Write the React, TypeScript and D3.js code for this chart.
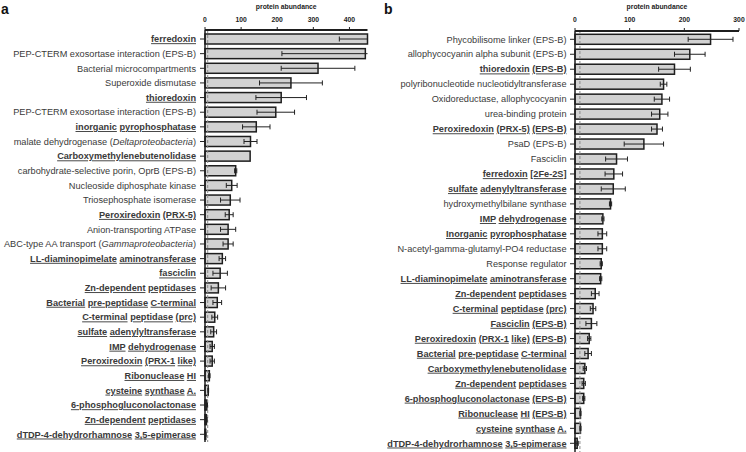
import React from "react";
import * as d3 from "d3";

// ---------- Panel a data ----------
const categoriesA: string[] = [
  "ferredoxin",
  "PEP-CTERM exosortase interaction (EPS-B)",
  "Bacterial microcompartments",
  "Superoxide dismutase",
  "thioredoxin",
  "PEP-CTERM exosortase interaction (EPS-B)",
  "inorganic pyrophosphatase",
  "malate dehydrogenase (_Deltaproteobacteria_)",
  "Carboxymethylenebutenolidase",
  "carbohydrate-selective porin, OprB (EPS-B)",
  "Nucleoside diphosphate kinase",
  "Triosephosphate isomerase",
  "Peroxiredoxin (PRX-5)",
  "Anion-transporting ATPase",
  "ABC-type AA transport (_Gammaproteobacteria_)",
  "LL-diaminopimelate aminotransferase",
  "fasciclin",
  "Zn-dependent peptidases",
  "Bacterial pre-peptidase C-terminal",
  "C-terminal peptidase (prc)",
  "sulfate adenylyltransferase",
  "IMP dehydrogenase",
  "Peroxiredoxin (PRX-1 like)",
  "Ribonuclease HI",
  "cysteine synthase A.",
  "6-phosphogluconolactonase",
  "Zn-dependent peptidases",
  "dTDP-4-dehydrorhamnose 3,5-epimerase",
];
const boldA: boolean[] = [
  true, false, false, false, true, false, true, false, true, false,
  false, false, true, false, false, true, true, true, true, true,
  true, true, true, true, true, true, true, true,
];
const valuesA: number[] = [
  450, 444, 313, 238, 211, 196, 142, 126, 125, 85,
  74, 70, 67, 64, 64, 48, 42, 37, 34, 27,
  24, 20, 20, 12, 9, 5, 4, 2,
];
const errorsA: number[] = [
  78, 231, 102, 87, 70, 52, 38, 18, 0, 3,
  15, 27, 11, 21, 14, 9, 20, 20, 12, 8,
  8, 6, 6, 2, 1, 2, 2, 1,
];
const ticksA: number[] = [0, 100, 200, 300, 400];

// ---------- Panel b data ----------
const categoriesB: string[] = [
  "Phycobilisome linker (EPS-B)",
  "allophycocyanin alpha subunit (EPS-B)",
  "thioredoxin (EPS-B)",
  "polyribonucleotide nucleotidyltransferase",
  "Oxidoreductase, allophycocyanin",
  "urea-binding protein",
  "Peroxiredoxin (PRX-5) (EPS-B)",
  "PsaD (EPS-B)",
  "Fasciclin",
  "ferredoxin [2Fe-2S]",
  "sulfate adenylyltransferase",
  "hydroxymethylbilane synthase",
  "IMP dehydrogenase",
  "Inorganic pyrophosphatase",
  "N-acetyl-gamma-glutamyl-PO4 reductase",
  "Response regulator",
  "LL-diaminopimelate aminotransferase",
  "Zn-dependent peptidases",
  "C-terminal peptidase (prc)",
  "Fasciclin (EPS-B)",
  "Peroxiredoxin (PRX-1 like) (EPS-B)",
  "Bacterial pre-peptidase C-terminal",
  "Carboxymethylenebutenolidase",
  "Zn-dependent peptidases",
  "6-phosphogluconolactonase (EPS-B)",
  "Ribonuclease HI (EPS-B)",
  "cysteine synthase A.",
  "dTDP-4-dehydrorhamnose 3,5-epimerase",
];
const boldB: boolean[] = [
  false, false, true, false, false, false, true, false, false, true,
  true, false, true, true, false, false, true, true, true, true,
  true, true, true, true, true, true, true, true,
];
const valuesB: number[] = [
  248, 210, 182, 162, 159, 155, 150, 126, 76, 71,
  70, 65, 51, 50, 50, 48, 47, 37, 33, 30,
  26, 24, 18, 16, 16, 10, 10, 4,
];
const errorsB: number[] = [
  41, 28, 29, 6, 14, 15, 10, 36, 20, 16,
  22, 2, 2, 8, 8, 2, 2, 7, 5, 10,
  3, 6, 3, 3, 2, 1, 1, 2,
];
const ticksB: number[] = [0, 100, 200, 300];

const FONT = "'Liberation Sans', Arial, Helvetica, sans-serif";
const TEXT_COLOR = "#3a3a3a";

type PanelProps = {
  letter: string;
  letterX: number;
  categories: string[];
  bold: boolean[];
  values: number[];
  errors: number[];
  ticks: number[];
  max: number;
  x0: number;
  x1: number;
  axisY: number;
  firstY: number;
  lastY: number;
  yAxisBottom: number;
  labelRight: number;
  dashed: number;
};

function Label({ text, bold, x, y }: { text: string; bold: boolean; x: number; y: number }) {
  const parts: React.ReactNode[] = [];
  if (bold) {
    const words = text.split(" ");
    words.forEach((w, i) => {
      parts.push(
        <tspan key={"w" + i} style={{ textDecoration: "underline" }}>
          {w}
        </tspan>
      );
      if (i < words.length - 1) parts.push(<tspan key={"s" + i}>{" "}</tspan>);
    });
  } else {
    const segs = text.split("_");
    segs.forEach((s, i) => {
      if (s.length === 0) return;
      parts.push(
        <tspan key={i} fontStyle={i % 2 === 1 ? "italic" : "normal"}>
          {s}
        </tspan>
      );
    });
  }
  return (
    <text
      x={x}
      y={y}
      dy="0.35em"
      textAnchor="end"
      fontFamily={FONT}
      fontSize={9.2}
      fontWeight={bold ? 700 : 400}
      fill={TEXT_COLOR}
      style={{ whiteSpace: "pre" }}
    >
      {parts}
    </text>
  );
}

function Panel(p: PanelProps) {
  const idx = p.categories.map((_, i) => i);
  const x = d3.scaleLinear().domain([0, p.max]).range([p.x0, p.x1]);
  const y = d3.scalePoint<number>().domain(idx).range([p.firstY, p.lastY]);
  const barH = 10;
  const capH = 5;
  return (
    <g>
      <text x={p.letterX} y={14} fontFamily={FONT} fontSize={14} fontWeight={700} fill="#111">
        {p.letter}
      </text>
      <text
        x={(p.x0 + p.x1) / 2}
        y={9}
        textAnchor="middle"
        fontFamily={FONT}
        fontSize={6.8}
        fontWeight={700}
        fill="#222"
      >
        protein abundance
      </text>
      {p.ticks.map((t) => (
        <g key={t}>
          <text
            x={x(t)}
            y={22}
            textAnchor="middle"
            fontFamily={FONT}
            fontSize={6.8}
            fontWeight={700}
            fill="#222"
          >
            {t}
          </text>
          <line x1={x(t)} x2={x(t)} y1={p.axisY - 3} y2={p.axisY} stroke="#222" strokeWidth={1} />
        </g>
      ))}
      {/* bars */}
      {idx.map((i) => {
        const cy = y(i)!;
        const v = p.values[i];
        return (
          <rect
            key={"b" + i}
            x={x(0)}
            y={cy - barH / 2}
            width={Math.max(0, x(v) - x(0))}
            height={barH}
            fill="#d2d2d2"
            stroke="#1e1e1e"
            strokeWidth={1.5}
          />
        );
      })}
      {/* dashed reference line */}
      <line
        x1={x(p.dashed)}
        x2={x(p.dashed)}
        y1={p.axisY}
        y2={p.yAxisBottom}
        stroke="#8a8a8a"
        strokeWidth={1}
        strokeDasharray="3,2"
      />
      {/* error bars */}
      {idx.map((i) => {
        const cy = y(i)!;
        const v = p.values[i];
        const e = p.errors[i];
        if (e <= 0) return null;
        const lo = Math.max(0, v - e);
        const hiRaw = v + e;
        const hi = Math.min(p.max, hiRaw);
        return (
          <g key={"e" + i} stroke="#222" strokeWidth={1}>
            <line x1={x(lo)} x2={x(hi)} y1={cy} y2={cy} />
            <line x1={x(lo)} x2={x(lo)} y1={cy - capH / 2} y2={cy + capH / 2} />
            {hiRaw <= p.max && <line x1={x(hi)} x2={x(hi)} y1={cy - capH / 2} y2={cy + capH / 2} />}
          </g>
        );
      })}
      {/* y axis */}
      <line x1={p.x0} x2={p.x0} y1={p.axisY} y2={p.yAxisBottom} stroke="#1e1e1e" strokeWidth={1.5} />
      {idx.map((i) => (
        <line key={"t" + i} x1={p.x0 - 5} x2={p.x0} y1={y(i)!} y2={y(i)!} stroke="#222" strokeWidth={1} />
      ))}
      {/* top axis */}
      <line x1={p.x0} x2={p.x1} y1={p.axisY} y2={p.axisY} stroke="#1e1e1e" strokeWidth={2} />
      {/* labels */}
      {idx.map((i) => (
        <Label key={"l" + i} text={p.categories[i]} bold={p.bold[i]} x={p.labelRight} y={y(i)!} />
      ))}
    </g>
  );
}

export default function App() {
  return (
    <svg
      width={746}
      height={452}
      viewBox="0 0 746 452"
      style={{ position: "absolute", left: 0, top: 0, background: "#fff" }}
    >
      <rect width={746} height={452} fill="#fff" />
      <Panel
        letter="a"
        letterX={1}
        categories={categoriesA}
        bold={boldA}
        values={valuesA}
        errors={errorsA}
        ticks={ticksA}
        max={450}
        x0={205}
        x1={367.5}
        axisY={30}
        firstY={39}
        lastY={434.3}
        yAxisBottom={442}
        labelRight={196}
        dashed={7.5}
      />
      <Panel
        letter="b"
        letterX={384}
        categories={categoriesB}
        bold={boldB}
        values={valuesB}
        errors={errorsB}
        ticks={ticksB}
        max={300}
        x0={575}
        x1={739}
        axisY={31}
        firstY={39.3}
        lastY={443.3}
        yAxisBottom={452}
        labelRight={566.5}
        dashed={9}
      />
    </svg>
  );
}
